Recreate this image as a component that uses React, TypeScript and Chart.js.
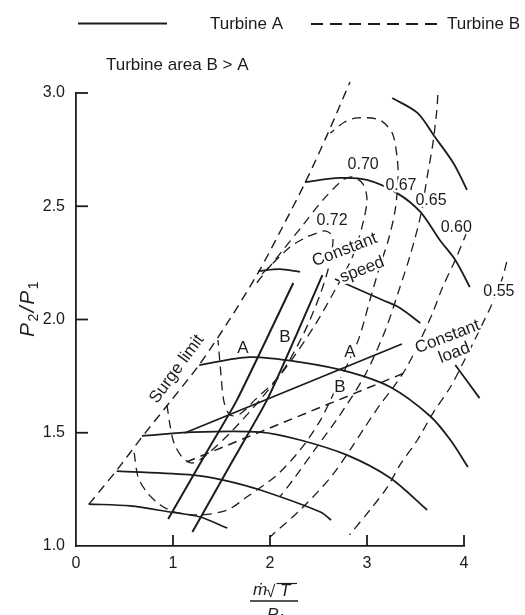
import React, { useEffect, useRef } from "react";
import { Chart, registerables } from "chart.js";

Chart.register(...registerables);

type Pt = [number, number];

// ---- axis ticks ----
const xTickValues = [0, 1, 2, 3, 4];
const yTickValues = [1.0, 1.5, 2.0, 2.5, 3.0];

// ---- compressor constant-speed lines (solid) ----
const speedLine1: Pt[] = [[0.13, 1.185], [0.56, 1.177], [0.97, 1.15], [1.28, 1.128], [1.56, 1.079]];
const speedLine2: Pt[] = [[0.42, 1.331], [1.21, 1.313], [1.52, 1.291], [1.9, 1.247], [2.52, 1.15], [2.63, 1.115]];
const speedLine3: Pt[] = [[0.68, 1.486], [1.21, 1.503], [1.9, 1.503], [2.31, 1.468], [2.79, 1.402], [3.24, 1.3], [3.62, 1.159]];
const speedLine4: Pt[] = [[1.27, 1.799], [1.79, 1.834], [2.31, 1.812], [2.82, 1.768], [3.24, 1.702], [3.65, 1.574], [3.86, 1.468], [4.04, 1.349]];
const speedLine5a: Pt[] = [[1.88, 2.214], [2.1, 2.222], [2.31, 2.21]];
const speedLine5b: Pt[] = [[2.67, 2.179], [3.16, 2.086], [3.34, 2.051], [3.55, 1.984]];
const speedLine5c: Pt[] = [[3.91, 1.799], [4.16, 1.653]];
const speedLine6: Pt[] = [[2.36, 2.607], [2.72, 2.625], [3.0, 2.616], [3.31, 2.558], [3.55, 2.475], [3.75, 2.351], [3.91, 2.263], [4.06, 2.143], [4.22, 2.011]];
const speedLine7: Pt[] = [[3.26, 2.978], [3.52, 2.912], [3.7, 2.806], [3.89, 2.691], [4.03, 2.572], [4.16, 2.439]];

// ---- turbine lines A and B (solid, steep) ----
const turbineLineA: Pt[] = [[0.95, 1.119], [1.36, 1.424], [1.66, 1.645], [2.24, 2.161]];
const turbineLineB: Pt[] = [[1.2, 1.062], [1.59, 1.358], [1.97, 1.645], [2.28, 1.94], [2.54, 2.196]];

// ---- constant load lines ----
const loadLineA: Pt[] = [[1.12, 1.499], [3.36, 1.892]];
const loadLineB: Pt[] = [[1.14, 1.371], [3.41, 1.768]];

// ---- surge limit (dashed) ----
const surgeLimit: Pt[] = [[0.134, 1.185], [0.423, 1.336], [0.68, 1.481], [0.969, 1.636], [1.268, 1.799], [1.567, 1.989], [1.876, 2.205], [2.124, 2.404], [2.361, 2.603], [2.598, 2.823], [2.825, 3.049]];

// ---- efficiency contours (dashed) ----
const eff72: Pt[] = [[1.918, 2.201], [2.206, 2.32], [2.361, 2.36], [2.485, 2.382], [2.567, 2.391], [2.639, 2.373], [2.649, 2.342], [2.619, 2.254], [2.515, 2.108], [2.34, 1.932], [2.103, 1.755], [1.845, 1.645], [1.691, 1.583], [1.588, 1.578], [1.526, 1.636], [1.495, 1.755], [1.464, 1.909]];
const eff70: Pt[] = [[0.938, 1.623], [0.969, 1.534], [1.01, 1.455], [1.093, 1.393], [1.196, 1.366], [1.33, 1.397], [1.588, 1.499], [1.897, 1.645], [2.206, 1.812], [2.464, 1.976], [2.67, 2.13], [2.845, 2.272], [2.948, 2.408], [3.0, 2.528], [2.959, 2.598], [2.856, 2.629], [2.753, 2.616], [2.546, 2.528], [2.34, 2.417], [2.134, 2.307], [1.845, 2.152]];
const eff67: Pt[] = [[0.6, 1.411], [0.64, 1.305], [0.73, 1.238], [0.87, 1.181], [1.02, 1.15], [1.28, 1.137], [1.56, 1.159], [1.76, 1.216], [2.07, 1.313], [2.31, 1.424], [2.52, 1.556], [2.72, 1.733], [2.91, 1.909], [3.03, 2.086], [3.13, 2.232], [3.22, 2.351], [3.29, 2.483], [3.32, 2.629], [3.31, 2.717], [3.26, 2.823], [3.13, 2.881], [2.9, 2.89], [2.77, 2.872], [2.62, 2.823]];
const eff65: Pt[] = [[3.73, 2.991], [3.72, 2.925], [3.68, 2.779], [3.62, 2.629], [3.55, 2.453], [3.44, 2.276], [3.34, 2.143], [3.19, 1.954], [2.98, 1.755], [2.72, 1.578], [2.46, 1.424], [2.26, 1.305], [2.1, 1.216]];
const eff60: Pt[] = [[4.03, 2.386], [3.91, 2.263], [3.78, 2.143], [3.68, 2.033], [3.55, 1.909], [3.41, 1.79], [3.289, 1.711], [3.134, 1.623], [2.979, 1.525], [2.825, 1.424], [2.619, 1.3], [2.31, 1.159], [2.0, 1.04]];
const eff55: Pt[] = [[4.44, 2.254], [4.4, 2.188], [4.34, 2.121], [4.27, 2.051], [4.22, 2.007], [4.11, 1.909], [3.99, 1.808], [3.86, 1.702], [3.68, 1.587], [3.52, 1.468], [3.34, 1.358], [3.21, 1.26], [3.03, 1.159], [2.82, 1.049]];

// ---- text annotations (data coordinates) ----
const annotations = [
  { text: "0.72", x: 2.64, y: 2.435, rot: 0, size: 16 },
  { text: "0.70", x: 2.96, y: 2.682, rot: 0, size: 16 },
  { text: "0.67", x: 3.35, y: 2.589, rot: 0, size: 16 },
  { text: "0.65", x: 3.66, y: 2.523, rot: 0, size: 16 },
  { text: "0.60", x: 3.92, y: 2.404, rot: 0, size: 16 },
  { text: "0.55", x: 4.36, y: 2.121, rot: 0, size: 16 },
  { text: "Constant", x: 2.77, y: 2.307, rot: -21, size: 17 },
  { text: "speed", x: 2.95, y: 2.219, rot: -21, size: 17 },
  { text: "Constant", x: 3.83, y: 1.923, rot: -21, size: 17 },
  { text: "load", x: 3.9, y: 1.852, rot: -21, size: 17 },
  { text: "Surge limit", x: 1.04, y: 1.781, rot: -54, size: 17 },
  { text: "A", x: 1.72, y: 1.874, rot: 0, size: 17 },
  { text: "B", x: 2.155, y: 1.923, rot: 0, size: 17 },
  { text: "A", x: 2.825, y: 1.857, rot: 0, size: 17 },
  { text: "B", x: 2.72, y: 1.702, rot: 0, size: 17 },
];

const legendLabels = ["Turbine A", "Turbine B"];
const noteText = "Turbine area B > A";

const INK = "#1c1c1c";
const FONT = '"Liberation Sans", Arial, Helvetica, sans-serif';
const DASH = [9, 6];

const toXY = (pts: Pt[]) => pts.map(([x, y]) => ({ x, y }));

const solid = (label: string, pts: Pt[], width = 1.8, tension = 0.3) => ({
  label,
  data: toXY(pts),
  showLine: true,
  borderColor: INK,
  backgroundColor: INK,
  borderWidth: width,
  pointRadius: 0,
  pointHoverRadius: 0,
  tension,
  clip: false,
  fill: false,
});

const dashed = (label: string, pts: Pt[], width = 1.4, tension = 0.3) => ({
  ...solid(label, pts, width, tension),
  borderDash: DASH,
});

const overlayPlugin = {
  id: "overlay",
  afterDatasetsDraw(chart: any) {
    const { ctx, chartArea } = chart;
    const xs = chart.scales.x;
    const ys = chart.scales.y;
    ctx.save();

    // inward tick marks
    ctx.strokeStyle = INK;
    ctx.lineWidth = 1.8;
    ctx.setLineDash([]);
    xTickValues.forEach((v) => {
      if (v === xs.min) return;
      const px = xs.getPixelForValue(v);
      ctx.beginPath();
      ctx.moveTo(px, chartArea.bottom);
      ctx.lineTo(px, chartArea.bottom - 11);
      ctx.stroke();
    });
    yTickValues.forEach((v) => {
      if (v === ys.min) return;
      const py = ys.getPixelForValue(v);
      ctx.beginPath();
      ctx.moveTo(chartArea.left, py);
      ctx.lineTo(chartArea.left + 12, py);
      ctx.stroke();
    });

    // annotations with white halo
    annotations.forEach((a) => {
      const px = xs.getPixelForValue(a.x);
      const py = ys.getPixelForValue(a.y);
      ctx.save();
      ctx.translate(px, py);
      ctx.rotate((a.rot * Math.PI) / 180);
      ctx.font = `${a.size}px ${FONT}`;
      ctx.textAlign = "center";
      ctx.textBaseline = "middle";
      ctx.lineJoin = "round";
      ctx.strokeStyle = "#ffffff";
      ctx.lineWidth = 5;
      ctx.strokeText(a.text, 0, 0);
      ctx.fillStyle = INK;
      ctx.fillText(a.text, 0, 0);
      ctx.restore();
    });

    // legend
    ctx.fillStyle = INK;
    ctx.strokeStyle = INK;
    ctx.lineWidth = 1.8;
    ctx.beginPath();
    ctx.moveTo(78, 23.5);
    ctx.lineTo(167, 23.5);
    ctx.stroke();
    ctx.setLineDash([12, 7]);
    ctx.beginPath();
    ctx.moveTo(311, 24);
    ctx.lineTo(440, 24);
    ctx.stroke();
    ctx.setLineDash([]);
    ctx.font = `17px ${FONT}`;
    ctx.textAlign = "left";
    ctx.textBaseline = "middle";
    ctx.fillText(legendLabels[0], 210, 24);
    ctx.fillText(legendLabels[1], 447, 24);
    ctx.fillText(noteText, 106, 65);

    // y axis title P2/P1 (rotated)
    ctx.save();
    ctx.translate(33.5, 308.5);
    ctx.rotate(-Math.PI / 2);
    ctx.textBaseline = "alphabetic";
    ctx.textAlign = "left";
    const segs = [
      { t: "P", f: `italic 21px ${FONT}`, dy: 0 },
      { t: "2", f: `14px ${FONT}`, dy: 4 },
      { t: "/", f: `italic 21px ${FONT}`, dy: 0 },
      { t: "P", f: `italic 21px ${FONT}`, dy: 0 },
      { t: "1", f: `14px ${FONT}`, dy: 4 },
    ];
    const gap = 1.5;
    let total = 0;
    segs.forEach((s) => {
      ctx.font = s.f;
      total += ctx.measureText(s.t).width + gap;
    });
    let cx = -total / 2;
    segs.forEach((s) => {
      ctx.font = s.f;
      ctx.fillText(s.t, cx, s.dy);
      cx += ctx.measureText(s.t).width + gap;
    });
    ctx.restore();

    // x axis title  m-dot sqrt(T) / P1
    ctx.textAlign = "left";
    ctx.textBaseline = "alphabetic";
    ctx.font = `italic 17px ${FONT}`;
    ctx.fillText("\u1E41", 253, 595);
    ctx.font = `17px ${FONT}`;
    ctx.fillText("\u221A", 266, 597);
    ctx.font = `italic 17px ${FONT}`;
    ctx.fillText("T", 280, 596);
    ctx.lineWidth = 1.2;
    ctx.beginPath();
    ctx.moveTo(276.5, 583.5);
    ctx.lineTo(297, 583.5);
    ctx.stroke();
    ctx.lineWidth = 1.3;
    ctx.beginPath();
    ctx.moveTo(250, 601);
    ctx.lineTo(298, 601);
    ctx.stroke();
    ctx.font = `italic 17px ${FONT}`;
    ctx.fillText("P", 267, 620);
    ctx.font = `12px ${FONT}`;
    ctx.fillText("1", 279, 623);

    ctx.restore();
  },
};

export default function App() {
  const ref = useRef<HTMLCanvasElement>(null);

  useEffect(() => {
    if (!ref.current) return;
    const datasets: any[] = [
      solid("Constant speed 1", speedLine1, 1.6),
      solid("Constant speed 2", speedLine2, 1.7),
      solid("Constant speed 3", speedLine3, 1.8),
      solid("Constant speed 4", speedLine4, 1.8),
      solid("Constant speed 5", speedLine5a, 1.8),
      solid("Constant speed 5", speedLine5b, 1.8),
      solid("Constant speed 5", speedLine5c, 1.8),
      solid("Constant speed 6", speedLine6, 1.8),
      solid("Constant speed 7", speedLine7, 1.8),
      solid("Turbine A", turbineLineA, 2.0, 0.2),
      solid("Turbine B", turbineLineB, 2.0, 0.2),
      solid("Constant load A", loadLineA, 1.8, 0),
      dashed("Constant load B", loadLineB, 1.5, 0),
      dashed("Surge limit", surgeLimit, 1.4),
      dashed("Efficiency 0.72", eff72, 1.3),
      dashed("Efficiency 0.70", eff70, 1.3),
      dashed("Efficiency 0.67", eff67, 1.3),
      dashed("Efficiency 0.65", eff65, 1.3),
      dashed("Efficiency 0.60", eff60, 1.3),
      dashed("Efficiency 0.55", eff55, 1.3),
    ];

    const chart = new Chart(ref.current, {
      type: "scatter",
      data: { datasets },
      plugins: [overlayPlugin],
      options: {
        animation: false,
        responsive: false,
        devicePixelRatio: 1,
        events: [],
        layout: { padding: { left: 0, top: 93, right: 61, bottom: 0 } },
        plugins: {
          legend: { display: false },
          tooltip: { enabled: false },
          title: { display: false },
        },
        scales: {
          x: {
            type: "linear",
            min: 0,
            max: 4,
            afterBuildTicks: (scale: any) => {
              scale.ticks = xTickValues.map((v) => ({ value: v }));
            },
            afterFit: (scale: any) => {
              scale.height = 69;
            },
            grid: { display: false, drawTicks: false, tickLength: 0 },
            border: { display: true, color: INK, width: 1.8 },
            ticks: {
              color: INK,
              font: { family: FONT, size: 16 },
              padding: 8,
              maxRotation: 0,
              autoSkip: false,
              callback: (v: any) => String(v),
            },
          },
          y: {
            type: "linear",
            min: 1,
            max: 3,
            afterBuildTicks: (scale: any) => {
              scale.ticks = yTickValues.map((v) => ({ value: v }));
            },
            afterFit: (scale: any) => {
              scale.width = 76;
            },
            grid: { display: false, drawTicks: false, tickLength: 0 },
            border: { display: true, color: INK, width: 1.8 },
            ticks: {
              color: INK,
              font: { family: FONT, size: 16 },
              padding: 11,
              autoSkip: false,
              callback: (v: any) => Number(v).toFixed(1),
            },
          },
        },
      } as any,
    });

    return () => chart.destroy();
  }, []);

  return (
    <div style={{ position: "absolute", left: 0, top: 0, width: 525, height: 615, background: "#ffffff" }}>
      <canvas ref={ref} width={525} height={615} style={{ width: 525, height: 615, display: "block" }} />
    </div>
  );
}
